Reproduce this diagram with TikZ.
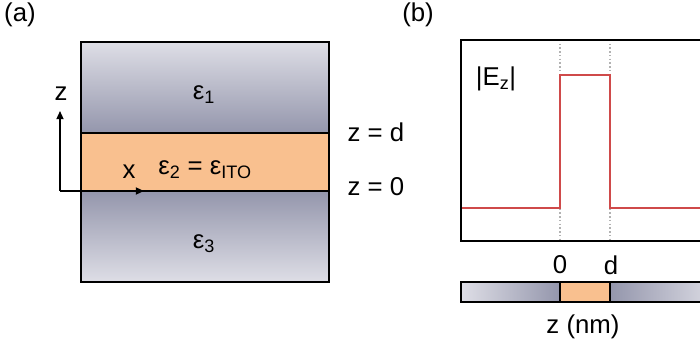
\documentclass[tikz,border=0pt]{standalone}
\usepackage{fontspec}
\setmainfont{Liberation Sans}
\usepackage{tikz}
\usetikzlibrary{arrows.meta,positioning,calc}

\definecolor{glight}{HTML}{DEDEE6}
\definecolor{gdark}{HTML}{9496AC}
\definecolor{ito}{HTML}{F9C08F}
\definecolor{field}{HTML}{CF4A4A}

\begin{document}
\begin{tikzpicture}[
    x=0.03cm, y=-0.03cm,
    lbl/.style={font=\fontsize{22}{24}\selectfont, inner sep=0pt},
    frame/.style={draw=black, line width=1.6pt},
    arr/.style={-{Triangle[length=7pt, width=6pt]}, line width=1.4pt},
    guide/.style={draw=black!30, dotted, line width=1.2pt},
    curve/.style={draw=field, line width=1.4pt}
]
\clip (0,0) rectangle (700,349);
\fill[white] (0,0) rectangle (700,349);

% (a) layer stack
\shade[top color=glight, bottom color=gdark] (81,42) rectangle (329,133);
\fill[ito] (81,133) rectangle (329,191);
\shade[top color=gdark, bottom color=glight] (81,191) rectangle (329,282);
\draw[frame] (81,133) -- (329,133) (81,191) -- (329,191);
\draw[frame] (81,42) rectangle (329,282);

\node[lbl] (eps1) at (204,95) {ε\textsubscript{1}};
\node[lbl] (eps2) at (205,170) {ε\textsubscript{2} = ε\textsubscript{ITO}};
\node[lbl] (eps3) at (204,244) {ε\textsubscript{3}};

\coordinate (origin) at (60,191);
\coordinate (ztip) at (60,111);
\coordinate (xtip) at (144,191);
\draw[arr] (origin) -- (ztip);
\draw[arr] (origin) -- (xtip);
\node[lbl] (zlab) at (61,94) {z};
\node[lbl] (xlab) at (129,172) {x};

\node[lbl] (ztop) at (376,132) {z = d};
\node[lbl] (zbot) at (376,187) {z = 0};

\node[lbl] (pa) at (20,15) {(a)};
\node[lbl] (pb) at (418,15) {(b)};

% (b) field profile
\draw[guide] (560,40) -- (560,241);
\draw[guide] (610,40) -- (610,241);
\draw[curve] (461,208) -- (560,208) -- (560,75) -- (610,75) -- (610,208) -- (705,208);
\draw[frame] (705,40) -- (461,40) -- (461,241) -- (705,241);
\node[lbl] (ez) at (496,79) {|E\textsubscript{z}|};

\node[lbl] (zero) at (560,265) {0};
\node[lbl] (dd) at (611,265) {d};

\shade[left color=glight, right color=gdark] (461,282) rectangle (560,302);
\fill[ito] (560,282) rectangle (610,302);
\shade[left color=gdark, right color=glight] (610,282) rectangle (720,302);
\draw[frame] (720,282) -- (461,282) -- (461,302) -- (720,302);
\draw[frame] (560,282) -- (560,302) (610,282) -- (610,302);
\node[lbl] (zaxis) at (583,327) {z (nm)};
\end{tikzpicture}
\end{document}
